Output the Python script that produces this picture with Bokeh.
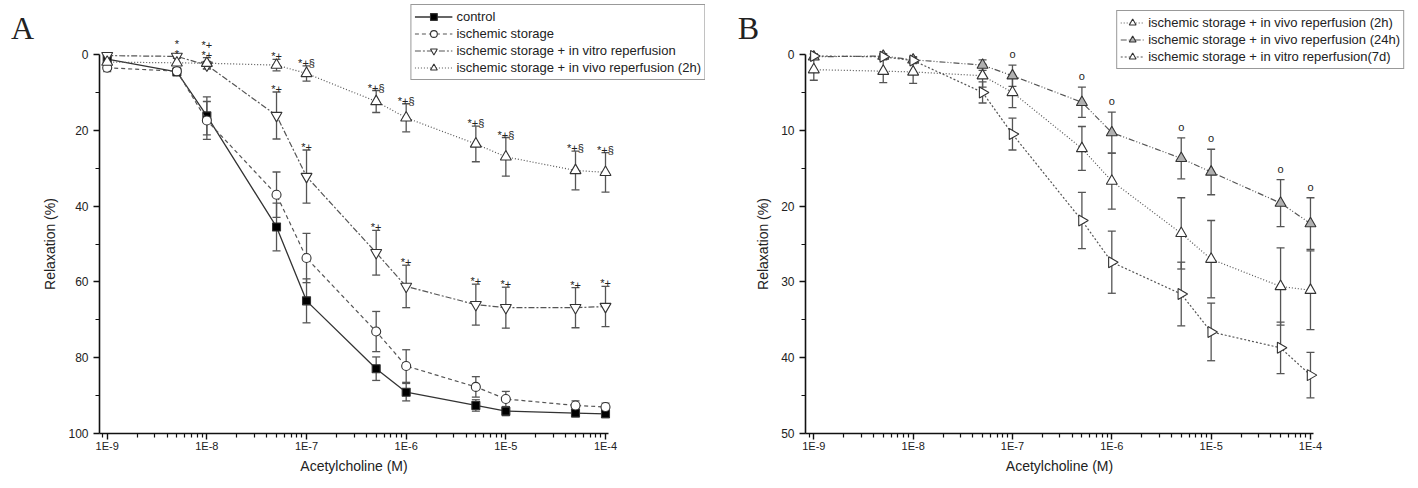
import math
from bokeh.plotting import figure
from bokeh.models import (ColumnDataSource, Range1d, FixedTicker, CustomJSTickFormatter,
                          Whisker, TeeHead, Legend, LegendItem, Label)
from bokeh.layouts import row
from bokeh.embed import file_html
from bokeh.resources import INLINE
from bokeh.core.properties import value

# ---------------- data ----------------
conc = [1e-9, 5e-9, 1e-8, 5e-8, 1e-7, 5e-7, 1e-6, 5e-6, 1e-5, 5e-5, 1e-4]

control = [1.2, 4.6, 16.2, 45.5, 65.0, 82.9, 89.1, 92.6, 94.1, 94.6, 94.8]
control_err = [0.5, 0.6, 5.0, 6.3, 5.8, 3.1, 2.3, 1.5, 1.2, 1.0, 1.0]

isch = [3.5, 4.4, 17.4, 37.0, 53.7, 73.1, 82.2, 87.7, 90.9, 92.6, 93.0]
isch_err = [1.0, 0.8, 5.0, 6.0, 6.5, 5.3, 4.3, 2.7, 2.0, 1.2, 1.0]

vitro = [0.3, 0.5, 2.8, 16.1, 32.2, 52.3, 61.2, 66.0, 66.8, 66.8, 66.5]
vitro_err = [0.3, 0.5, 1.0, 6.2, 7.0, 5.9, 5.6, 5.4, 5.4, 5.3, 5.3]

vivo2h = [2.0, 2.2, 2.3, 2.8, 5.0, 12.4, 16.7, 23.6, 27.0, 30.6, 31.1]
vivo2h_err = [1.4, 1.5, 1.5, 1.5, 2.0, 2.9, 3.7, 4.7, 5.1, 5.1, 5.2]

vivo24h = [0.3, 0.2, 0.7, 1.4, 2.8, 6.3, 10.3, 13.7, 15.5, 19.6, 22.3]
vivo24h_err = [0.3, 0.3, 0.4, 0.7, 1.4, 2.0, 2.7, 2.7, 3.0, 3.1, 3.4]

vitro7d = [0.2, 0.3, 0.8, 5.0, 10.5, 21.9, 27.4, 31.6, 36.6, 38.7, 42.3]
vitro7d_err = [0.3, 0.3, 0.4, 1.4, 2.1, 3.7, 4.1, 4.2, 3.8, 3.4, 3.0]

x_ticks = [1e-9, 1e-8, 1e-7, 1e-6, 1e-5, 1e-4]
x_tick_labels = ["1E-9", "1E-8", "1E-7", "1E-6", "1E-5", "1E-4"]
yA_ticks = [0, 20, 40, 60, 80, 100]
yB_ticks = [0, 10, 20, 30, 40, 50]

labels_A = ["control", "ischemic storage", "ischemic storage + in vitro reperfusion",
            "ischemic storage + in vivo reperfusion (2h)"]
labels_B = ["ischemic storage + in vivo reperfusion (2h)",
            "ischemic storage + in vivo reperfusion (24h)",
            "ischemic storage + in vitro reperfusion(7d)"]

# significance marks (concentration, text, series they sit on, stacking level)
sigA_conc = [5e-9, 5e-9, 1e-8, 1e-8, 5e-8, 1e-7, 5e-7, 1e-6, 5e-6, 1e-5, 5e-5, 1e-4,
             5e-8, 1e-7, 5e-7, 1e-6, 5e-6, 1e-5, 5e-5, 1e-4]
sigA_text = ["*", "*", "*+", "*+", "*+", "*+§", "*+§", "*+§", "*+§", "*+§", "*+§", "*+§",
             "*+", "*+", "*+", "*+", "*+", "*+", "*+", "*+"]
sigA_series = ["vivo2h"] * 12 + ["vitro"] * 8
sigA_level = [0, 1, 0, 1, 0, 0, 0, 0, 0, 0, 0, 0, 0, 0, 0, 0, 0, 0, 0, 0]

sigB_conc = [1e-7, 5e-7, 1e-6, 5e-6, 1e-5, 5e-5, 1e-4]
sigB_text = ["o", "o", "o", "o", "o", "o", "o"]

# ---------------- helpers ----------------
FONT = "Liberation Sans"
series_tbl = {"control": (control, control_err), "isch": (isch, isch_err),
              "vitro": (vitro, vitro_err), "vivo2h": (vivo2h, vivo2h_err),
              "vivo24h": (vivo24h, vivo24h_err), "vitro7d": (vitro7d, vitro7d_err)}

minor_x = [9e-10] + [k * 10.0 ** d for d in range(-9, -4) for k in range(2, 10)]

FRAME_TOP = 4       # px from page top
AXIS_PX = 433       # px of the x axis line
ZERO_PX = 54        # px of y = 0
FIG_H = 484


def make_fig(width, x_lo_log, x_hi_log, axis_log, ymax, yticks, yminor):
    px_per_unit = (AXIS_PX - ZERO_PX) / ymax
    y_top = (FRAME_TOP - ZERO_PX) / px_per_unit
    y_bot = ymax + (FIG_H - AXIS_PX) / px_per_unit
    p = figure(width=width, height=FIG_H, x_axis_type="log",
               x_range=Range1d(10 ** x_lo_log, 10 ** x_hi_log),
               y_range=Range1d(y_bot, y_top),
               output_backend="svg", toolbar_location=None,
               min_border_left=0, min_border_right=8,
               min_border_top=FRAME_TOP, min_border_bottom=0)
    p.outline_line_color = None
    p.xgrid.visible = False
    p.ygrid.visible = False
    p.background_fill_color = "white"
    p.border_fill_color = "white"

    p.xaxis.ticker = FixedTicker(ticks=x_ticks, minor_ticks=minor_x)
    p.xaxis.formatter = CustomJSTickFormatter(
        args=dict(labels=x_tick_labels),
        code="const i = Math.round(Math.log10(tick)) + 9; return labels[i];")
    p.xaxis.bounds = (10 ** axis_log, 10 ** -3.97)
    p.xaxis.fixed_location = ymax
    p.yaxis.ticker = FixedTicker(ticks=yticks, minor_ticks=yminor)
    p.yaxis.bounds = (yticks[0], yticks[-1])
    p.yaxis.fixed_location = 10 ** axis_log

    for ax in (p.xaxis[0], p.yaxis[0]):
        ax.axis_line_color = "#111"
        ax.axis_line_width = 1.6
        ax.major_tick_line_color = "#111"
        ax.major_tick_line_width = 1.4
        ax.minor_tick_line_color = "#111"
        ax.minor_tick_line_width = 1.2
        ax.major_tick_in = 0
        ax.major_tick_out = 6
        ax.minor_tick_in = 0
        ax.minor_tick_out = 4
        ax.major_label_text_font = FONT
        ax.major_label_text_color = "#222"
        ax.axis_label_text_font = FONT
        ax.axis_label_text_font_style = "normal"
        ax.axis_label_text_font_size = "14px"
        ax.axis_label_text_color = "#222"
    p.xaxis.major_label_text_font_size = "11px"
    p.yaxis.major_label_text_font_size = "12px"
    p.xaxis.major_label_standoff = 0
    p.xaxis.axis_label_standoff = 3
    p.yaxis.axis_label_standoff = 7
    p.xaxis.axis_label = "Acetylcholine (M)"
    p.yaxis.axis_label = "Relaxation (%)"
    return p


def add_series(p, key, marker, dash, size, fill, line_color="#555", line_width=1.2, angle=0.0):
    vals, errs = series_tbl[key]
    src = ColumnDataSource(dict(x=conc, y=vals,
                                lo=[v - e for v, e in zip(vals, errs)],
                                hi=[v + e for v, e in zip(vals, errs)]))
    w = Whisker(base="x", lower="lo", upper="hi", source=src,
                line_color="#555", line_width=1.3,
                lower_head=TeeHead(size=8, line_color="#555", line_width=1.3),
                upper_head=TeeHead(size=8, line_color="#555", line_width=1.3))
    p.add_layout(w)
    lr = p.line("x", "y", source=src, line_color=line_color, line_width=line_width,
                line_dash=dash)
    sr = p.scatter("x", "y", source=src, marker=marker, size=size, fill_color=fill,
                   line_color="#333", line_width=1.1, angle=angle)
    return [lr, sr]


def add_sig(p, concs, texts, keys, levels, base_off, step, fs):
    ys, offs = [], []
    for c, k, lv in zip(concs, keys, levels):
        vals, errs = series_tbl[k]
        i = conc.index(c)
        ys.append(vals[i] - errs[i])
        offs.append(-(base_off + step * lv))
    src = ColumnDataSource(dict(x=concs, y=ys, t=texts, off=offs))
    p.text("x", "y", text="t", source=src, y_offset="off",
           text_font=value(FONT), text_font_size=value(fs),
           text_align="center", text_baseline="middle", text_color="#222")


def style_legend(leg, gw, fs):
    leg.border_line_color = "#333"
    leg.border_line_width = 1
    leg.background_fill_color = "white"
    leg.background_fill_alpha = 1.0
    leg.label_text_font = FONT
    leg.label_text_font_size = fs
    leg.label_text_color = "#222"
    leg.glyph_width = gw
    leg.glyph_height = 17
    leg.label_height = 17
    leg.spacing = 0
    leg.padding = 3
    leg.label_standoff = 4


# ---------------- panel A ----------------
pA = make_fig(713, -10.0707, -2.9966, -9.0773, 100, yA_ticks, [10, 30, 50, 70, 90])
rA = [
    add_series(pA, "control", "square", "solid", 8, "black", line_color="#333", line_width=1.3),
    add_series(pA, "isch", "circle", "4 3", 9, "white"),
    add_series(pA, "vitro", "inverted_triangle", "6 2 2 2", 11, "white"),
    add_series(pA, "vivo2h", "triangle", "1 2", 11, "white"),
]
add_sig(pA, sigA_conc, sigA_text, sigA_series, sigA_level, 3, 10, "11px")
legA = Legend(items=[LegendItem(label=l, renderers=r) for l, r in zip(labels_A, rA)],
              location="top_right", margin=0)
style_legend(legA, 38, "13px")
pA.add_layout(legA)
pA.add_layout(Label(x=22, y=FIG_H - 27, x_units="screen", y_units="screen", text="A",
                    text_font="Liberation Serif", text_font_size="32px",
                    text_align="center", text_baseline="middle", text_color="#222"))

# ---------------- panel B ----------------
pB = make_fig(705, -10.0098, -2.993, -9.0836, 50, yB_ticks, [5, 15, 25, 35, 45])
rB = [
    add_series(pB, "vivo2h", "triangle", "1 2", 11, "white"),
    add_series(pB, "vivo24h", "triangle", "6 2 1 2 1 2", 11, "#b0b0b0"),
    add_series(pB, "vitro7d", "triangle", "2 2", 11, "white", angle=-math.pi / 2),
]
add_sig(pB, sigB_conc, sigB_text, ["vivo24h"] * len(sigB_conc), [0] * len(sigB_conc), 11, 0, "11px")
legB = Legend(items=[LegendItem(label=l, renderers=r) for l, r in zip(labels_B, rB)],
              location="top_right", margin=6)
style_legend(legB, 24, "13px")
pB.add_layout(legB)
pB.add_layout(Label(x=35, y=FIG_H - 27, x_units="screen", y_units="screen", text="B",
                    text_font="Liberation Serif", text_font_size="32px",
                    text_align="center", text_baseline="middle", text_color="#222"))

layout = row(pA, pB)
open("out.html", "w").write(file_html(layout, INLINE))
